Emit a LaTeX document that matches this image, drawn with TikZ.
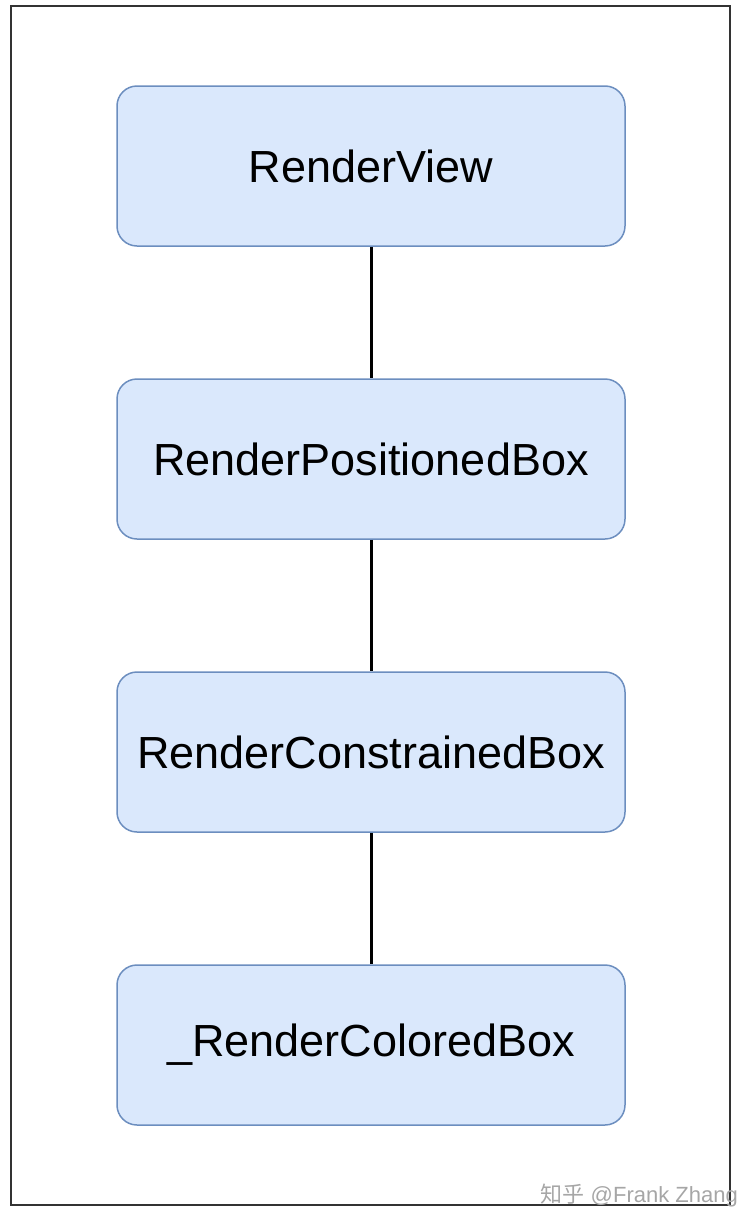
\documentclass[tikz,border=0pt]{standalone}
\usepackage{fontspec}
\setmainfont{Liberation Sans}
\newfontfamily\cjk{Noto Sans CJK SC}
\definecolor{boxfill}{HTML}{DAE8FC}
\definecolor{boxline}{HTML}{6C8EBF}
\definecolor{frameline}{HTML}{333333}
\begin{document}
\begin{tikzpicture}[x=1pt,y=-1pt,
  rbox/.style={draw=boxline,fill=boxfill,line width=1.5pt,rounded corners=20pt,
    minimum width=508pt,minimum height=160pt,inner sep=0pt,
    font=\fontsize{45}{54}\selectfont,text=black},
  link/.style={draw=black,line width=3pt}]
\useasboundingbox (0,0) rectangle (740,1210);
\draw[frameline,line width=2.5pt] (11,6) rectangle (730,1205);
\node[rbox] (a) at (371,166) {RenderView};
\node[rbox] (b) at (371,459) {RenderPositionedBox};
\node[rbox] (c) at (371,752) {RenderConstrainedBox};
\node[rbox] (d) at (371,1045) {\_RenderColoredBox};
\draw[link] (a) -- (b);
\draw[link] (b) -- (c);
\draw[link] (c) -- (d);
\node[anchor=east,text=black!35,font=\fontsize{22}{26}\selectfont,inner sep=0pt] (wm) at (738,1196) {{\cjk 知乎} @Frank Zhang};
\end{tikzpicture}
\end{document}
